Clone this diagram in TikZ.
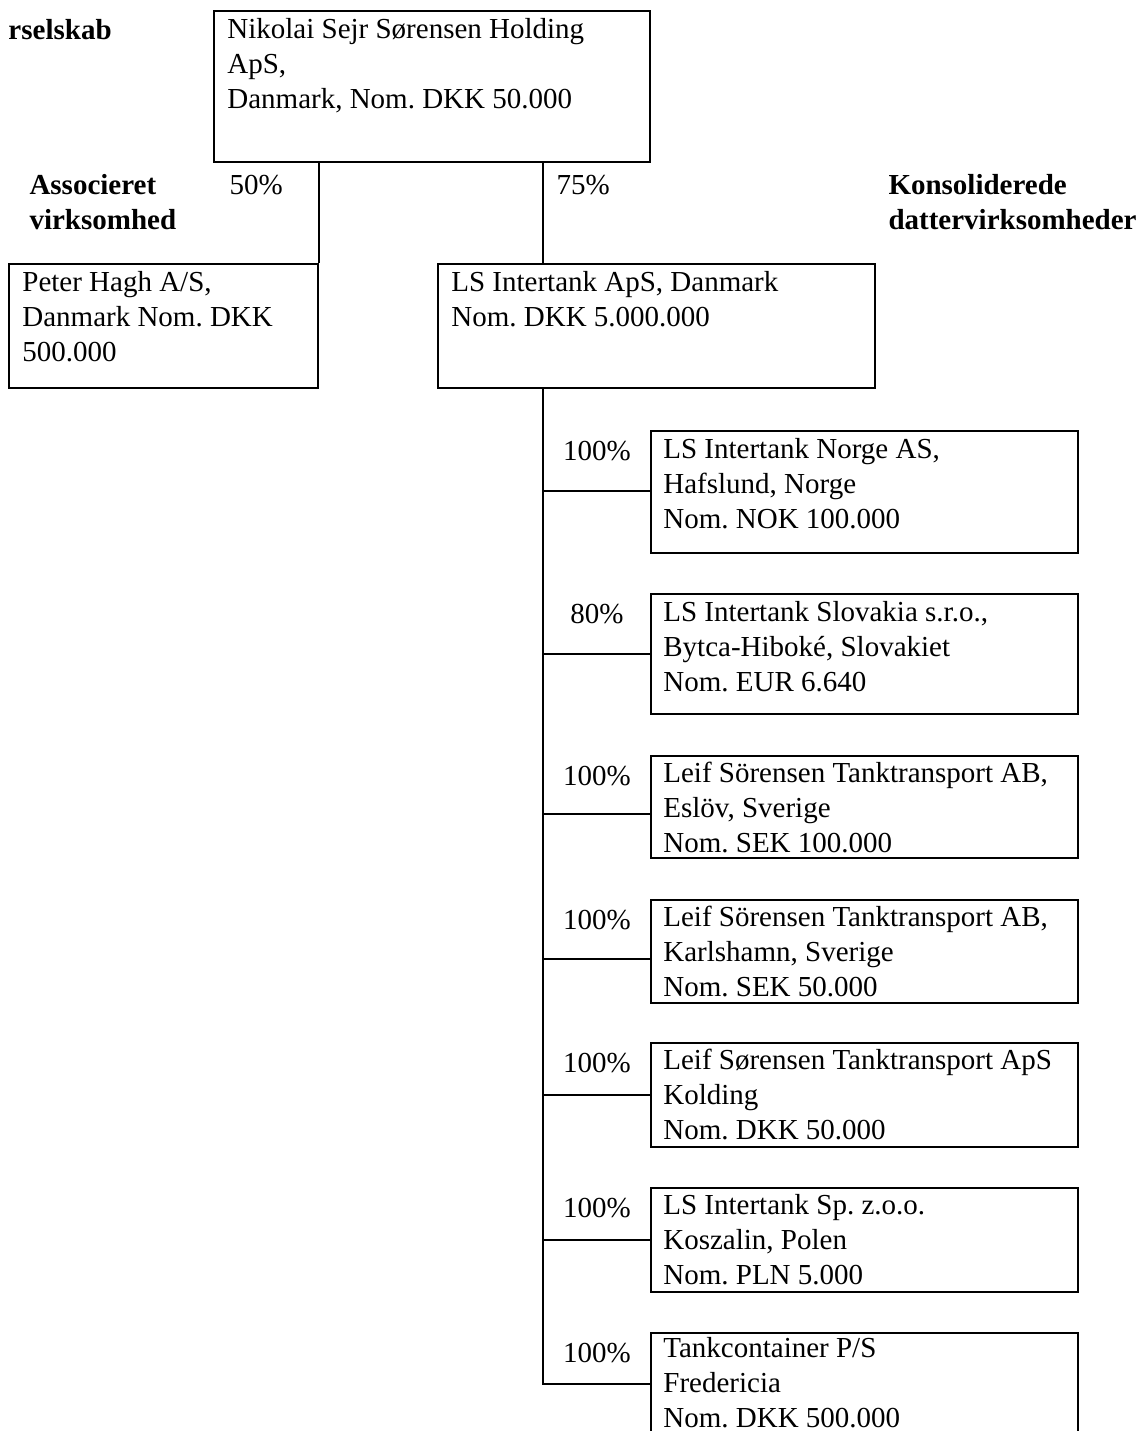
\documentclass[tikz,border=0pt]{standalone}
\usepackage{fontspec}
\setmainfont{Liberation Serif}
\usetikzlibrary{fit,calc}
\frenchspacing
\begin{document}
\begin{tikzpicture}[x=0.4pt,y=-0.4pt,
  box/.style={draw,line width=0.9pt,inner sep=0pt},
  conn/.style={line width=0.9pt},
  txt/.style={font=\fontsize{11.6}{14}\selectfont\frenchspacing,align=left,inner sep=0pt,anchor=base west},
  pct/.style={font=\fontsize{11.6}{14}\selectfont,inner sep=0pt,anchor=base},
  head/.style={font=\fontsize{11.6}{14}\selectfont\bfseries,align=left,inner sep=0pt,anchor=base west}]
\useasboundingbox (0,0) rectangle (1143,1431);
\clip (0,0) rectangle (1143,1431);

% boxes
\node[box,fit={(214,11)(650,162)}] (top) {};
\node[box,fit={(9,264)(318,388)}] (peter) {};
\node[box,fit={(438,264)(875,388)}] (ls) {};
\node[box,fit={(651,431)(1078,553)}] (norge) {};
\node[box,fit={(651,594)(1078,714)}] (slovakia) {};
\node[box,fit={(651,756)(1078,858)}] (eslov) {};
\node[box,fit={(651,900)(1078,1003)}] (karlshamn) {};
\node[box,fit={(651,1043)(1078,1147)}] (kolding) {};
\node[box,fit={(651,1188)(1078,1292)}] (polen) {};
\node[box,fit={(651,1333)(1078,1440)}] (tank) {};

% box texts (anchor = baseline of the last line)
\node[txt] (toptxt) at ($(top.north west)+(14,99)$) {Nikolai Sejr Sørensen Holding\\ApS,\\Danmark, Nom. DKK 50.000};
\node[txt] (petertxt) at ($(peter.north west)+(14,99)$) {Peter Hagh A/S,\\Danmark Nom. DKK\\500.000};
\node[txt] (lstxt) at ($(ls.north west)+(14,64)$) {LS Intertank ApS, Danmark\\Nom. DKK 5.000.000};
\node[txt] (norgetxt) at ($(norge.north west)+(13,99)$) {LS Intertank Norge AS,\\Hafslund, Norge\\Nom. NOK 100.000};
\node[txt] (slovakiatxt) at ($(slovakia.north west)+(13,99)$) {LS Intertank Slovakia s.r.o.,\\Bytca-Hiboké, Slovakiet\\Nom. EUR 6.640};
\node[txt] (eslovtxt) at ($(eslov.north west)+(13,98)$) {Leif Sörensen Tanktransport AB,\\Eslöv, Sverige\\Nom. SEK 100.000};
\node[txt] (karlshamntxt) at ($(karlshamn.north west)+(13,98)$) {Leif Sörensen Tanktransport AB,\\Karlshamn, Sverige\\Nom. SEK 50.000};
\node[txt] (koldingtxt) at ($(kolding.north west)+(13,98)$) {Leif Sørensen Tanktransport ApS\\Kolding\\Nom. DKK 50.000};
\node[txt] (polentxt) at ($(polen.north west)+(13,98)$) {LS Intertank Sp. z.o.o.\\Koszalin, Polen\\Nom. PLN 5.000};
\node[txt] (tanktxt) at ($(tank.north west)+(13,96)$) {Tankcontainer P/S\\Fredericia\\Nom. DKK 500.000};

% headings
\node[head] (moder) at (8,40) {rselskab};
\node[head] (assoc) at (29,230) {Associeret\\virksomhed};
\node[head] (kons) at (888,230) {Konsoliderede\\dattervirksomheder};

% percentages
\node[pct,anchor=base west] (p50) at (229,195) {50\%};
\node[pct,anchor=base west] (p75) at (556,195) {75\%};
\node[pct] (pN) at (597,460) {100\%};
\node[pct] (pS) at (597,623) {80\%};
\node[pct] (pE) at (597,785) {100\%};
\node[pct] (pK) at (597,929) {100\%};
\node[pct] (pKo) at (597,1072) {100\%};
\node[pct] (pP) at (597,1217) {100\%};
\node[pct] (pT) at (597,1362) {100\%};

% connectors
\coordinate (spine) at (543,0);
\coordinate (bN) at (543,491);
\coordinate (bS) at (543,654);
\coordinate (bE) at (543,814);
\coordinate (bK) at (543,959);
\coordinate (bKo) at (543,1095);
\coordinate (bP) at (543,1240);
\coordinate (bT) at (543,1384);

\draw[conn] (top.south -| peter.north east) -- (peter.north east);
\draw[conn] (top.south -| spine) -- (ls.north -| spine);
\draw[conn] (ls.south -| spine) -- (bT) -- (bT -| tank.west);
\draw[conn] (bN) -- (bN -| norge.west);
\draw[conn] (bS) -- (bS -| slovakia.west);
\draw[conn] (bE) -- (bE -| eslov.west);
\draw[conn] (bK) -- (bK -| karlshamn.west);
\draw[conn] (bKo) -- (bKo -| kolding.west);
\draw[conn] (bP) -- (bP -| polen.west);
\end{tikzpicture}
\end{document}
